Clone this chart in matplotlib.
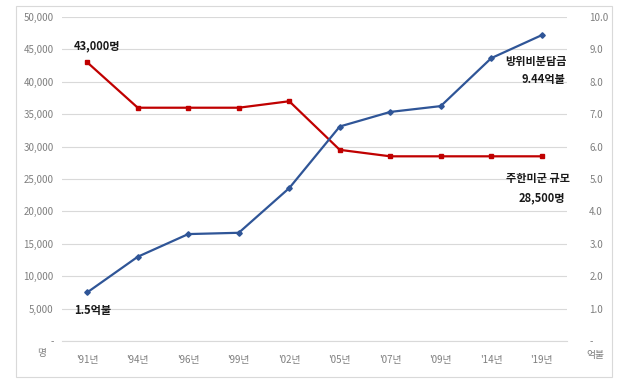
import matplotlib
matplotlib.use("Agg")
import matplotlib.pyplot as plt
from matplotlib.patches import Rectangle

plt.rcParams['font.family'] = ['Noto Sans CJK KR', 'DejaVu Sans']

years = ["'91년", "'94년", "'96년", "'99년", "'02년", "'05년", "'07년", "'09년", "'14년", "'19년"]
troops = [43000, 36000, 36000, 36000, 37000, 29500, 28500, 28500, 28500, 28500]
cost = [1.5, 2.6, 3.3, 3.34, 4.72, 6.62, 7.07, 7.25, 8.73, 9.44]
left_ticks = [0, 5000, 10000, 15000, 20000, 25000, 30000, 35000, 40000, 45000, 50000]
right_ticks = [0, 1, 2, 3, 4, 5, 6, 7, 8, 9, 10]

fig = plt.figure(figsize=(6.4, 3.84), dpi=100)
fig.patches.append(Rectangle((16/640, 1-377/384), 596/640, 371/384, transform=fig.transFigure,
                             fill=False, edgecolor='#d9d9d9', linewidth=0.8))
ax = fig.add_axes([62/640, 1-341/384, 505/640, 324/384])
ax2 = ax.twinx()

x = list(range(len(years)))
ax.plot(x, troops, color='#C00000', marker='s', markersize=3.5, linewidth=1.6, zorder=3)
ax2.plot(x, cost, color='#2F5597', marker='D', markersize=2.8, linewidth=1.6, zorder=3)

ax.set_xlim(-0.5, len(years)-0.5)
ax.set_ylim(0, 50000)
ax2.set_ylim(0, 10)
ax.set_yticks(left_ticks)
ax.set_yticklabels(['-' if v == 0 else f'{v:,}' for v in left_ticks])
ax2.set_yticks(right_ticks)
ax2.set_yticklabels(['-' if v == 0 else f'{v:.1f}' for v in right_ticks])
ax.set_xticks(x)
ax.set_xticklabels(years)
ax.grid(axis='y', color='#d9d9d9', linewidth=0.8)
ax.set_axisbelow(True)
for a in (ax, ax2):
    for s in a.spines.values():
        s.set_visible(False)
    a.tick_params(length=0, labelsize=7, labelcolor='#7f7f7f')
ax.spines['bottom'].set_visible(True)
ax.spines['bottom'].set_color('#d9d9d9')
ax.tick_params(axis='x', pad=10)
ax.tick_params(axis='y', pad=6)
ax2.tick_params(axis='y', pad=16)

fig.text(42/640, 1-353/384, '명', fontsize=7, color='#7f7f7f', ha='center', va='center')
fig.text(595/640, 1-355/384, '억불', fontsize=7, color='#7f7f7f', ha='center', va='center')

kw = dict(fontsize=8, color='#1a1a1a', fontweight='bold')
ax.text(0.2, 45500, '43,000명', ha='center', va='center', **kw)
ax2.text(9.5, 8.64, '방위비분담금', ha='right', va='center', **kw)
ax2.text(9.47, 8.06, '9.44억불', ha='right', va='center', **kw)
ax2.text(9.56, 5.03, '주한미군 규모', ha='right', va='center', **kw)
ax2.text(9.46, 4.41, '28,500명', ha='right', va='center', **kw)
ax2.text(0.11, 0.93, '1.5억불', ha='center', va='center', **kw)

fig.savefig('out.png', dpi=100)
